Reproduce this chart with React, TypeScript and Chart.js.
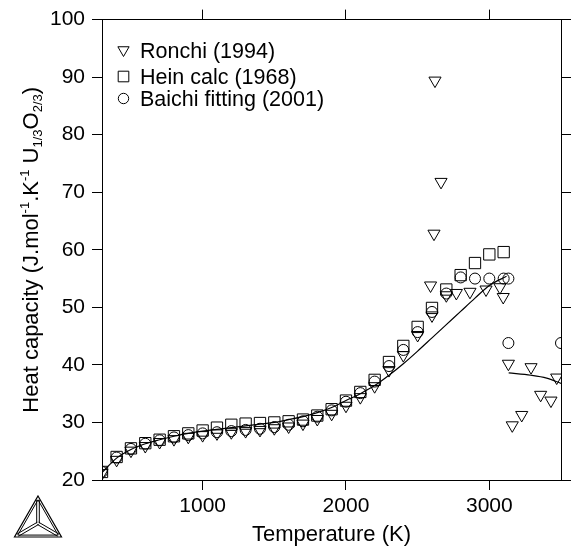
import React, { useEffect, useRef } from 'react';
import { Chart, registerables } from 'chart.js';

Chart.register(...registerables);

const FONT = '"Liberation Sans", Arial, Helvetica, sans-serif';

const X_MIN = 298;
const X_MAX = 3500;
const Y_MIN = 20;
const Y_MAX = 100;
const xTickValues = [1000, 2000, 3000];
const yTickValues = [20, 30, 40, 50, 60, 70, 80, 90, 100];

// Ronchi (1994) - downward triangles
const ronchiT = [298, 400, 500, 600, 700, 800, 900, 1000, 1100, 1200, 1300, 1400, 1500, 1600, 1700, 1800, 1900, 2000, 2100, 2200, 2300, 2400, 2500, 2590, 2600, 2614, 2621, 2663, 2700, 2770, 2865, 2977, 3074, 3097, 3133, 3160, 3226, 3291, 3358, 3430, 3470];
const ronchiCp = [21.2, 23.5, 25.1, 25.9, 26.6, 27.1, 27.5, 27.8, 28.1, 28.3, 28.5, 28.7, 29.0, 29.3, 29.8, 30.6, 31.5, 32.9, 34.4, 36.3, 39.1, 41.7, 45.2, 53.8, 48.6, 62.8, 89.4, 71.8, 52.1, 52.5, 52.7, 53.1, 53.5, 51.8, 40.2, 29.5, 31.3, 39.6, 34.8, 33.8, 37.8];

// Hein calc (1968) - squares
const heinT = [298, 400, 500, 600, 700, 800, 900, 1000, 1100, 1200, 1300, 1400, 1500, 1600, 1700, 1800, 1900, 2000, 2100, 2200, 2300, 2400, 2500, 2600, 2700, 2800, 2900, 3000, 3100];
const heinCp = [21.4, 24.0, 25.5, 26.4, 27.0, 27.6, 28.1, 28.6, 29.1, 29.6, 29.8, 29.9, 30.0, 30.2, 30.5, 31.2, 32.3, 33.8, 35.3, 37.4, 40.5, 43.3, 46.6, 49.9, 53.1, 55.6, 57.7, 59.2, 59.6];

// Baichi fitting (2001) - circles
const baichiT = [298, 400, 500, 600, 700, 800, 900, 1000, 1100, 1200, 1300, 1400, 1500, 1600, 1700, 1800, 1900, 2000, 2100, 2200, 2300, 2400, 2500, 2600, 2700, 2800, 2900, 3000, 3100, 3133, 3133, 3500];
const baichiCp = [21.4, 23.9, 25.4, 26.3, 26.9, 27.4, 27.8, 28.1, 28.3, 28.5, 28.7, 28.9, 29.2, 29.6, 30.2, 31.0, 32.1, 33.6, 35.1, 37.1, 39.8, 42.6, 45.7, 49.2, 52.4, 55.2, 55.0, 55.0, 55.0, 55.0, 43.8, 43.8];

// Calculated curve (solid phase)
const fitSolidT = [298, 400, 500, 600, 700, 800, 900, 1000, 1100, 1200, 1300, 1400, 1500, 1600, 1700, 1800, 1900, 2000, 2100, 2200, 2300, 2400, 2500, 2600, 2700, 2800, 2900, 3000, 3120];
const fitSolidCp = [21.3, 23.8, 25.3, 26.3, 27.0, 27.6, 28.1, 28.5, 28.8, 29.1, 29.4, 29.7, 30.0, 30.5, 31.0, 31.7, 32.6, 33.8, 35.0, 36.4, 38.2, 40.2, 42.4, 44.7, 47.0, 49.3, 51.6, 53.8, 55.4];

// Calculated curve (liquid phase)
const fitLiquidT = [3135, 3290, 3400, 3500];
const fitLiquidCp = [38.6, 38.2, 37.7, 36.8];

const legendLabels = ['Ronchi (1994)', 'Hein calc (1968)', 'Baichi fitting (2001)'];
const legendStyles = ['triangle', 'rect', 'circle'];
const xTitle = 'Temperature (K)';
const yTitleParts: { t: string; k: 'n' | 'sup' | 'sub' }[] = [
  { t: 'Heat capacity (J.mol', k: 'n' },
  { t: '-1', k: 'sup' },
  { t: '.K', k: 'n' },
  { t: '-1', k: 'sup' },
  { t: ' U', k: 'n' },
  { t: '1/3', k: 'sub' },
  { t: 'O', k: 'n' },
  { t: '2/3', k: 'sub' },
  { t: ')', k: 'n' },
];

function pts(xs: number[], ys: number[]) {
  return xs.map((x, i) => ({ x, y: ys[i] }));
}

function drawMarker(ctx: CanvasRenderingContext2D, style: string, x: number, y: number, r: number) {
  ctx.beginPath();
  if (style === 'triangle') {
    const s = Math.sin(Math.PI / 3) * r;
    ctx.moveTo(x - s, y - r * 0.5);
    ctx.lineTo(x + s, y - r * 0.5);
    ctx.lineTo(x, y + r);
    ctx.closePath();
  } else if (style === 'rect') {
    const s = r * Math.SQRT1_2;
    ctx.rect(x - s, y - s, 2 * s, 2 * s);
  } else {
    ctx.arc(x, y, r, 0, Math.PI * 2);
  }
  ctx.stroke();
}

const overlayPlugin = {
  id: 'overlay',
  afterDraw(chart: any) {
    const ctx: CanvasRenderingContext2D = chart.ctx;
    const area = chart.chartArea;
    ctx.save();
    ctx.strokeStyle = '#000';
    ctx.fillStyle = '#000';
    ctx.lineWidth = 1;

    // Legend
    const radii = [6.5, 7.5, 5.2];
    const rowY = [50, 76.5, 98.5];
    ctx.font = `21.5px ${FONT}`;
    ctx.textAlign = 'left';
    ctx.textBaseline = 'alphabetic';
    legendLabels.forEach((lab, i) => {
      drawMarker(ctx, legendStyles[i], area.left + 21.5, rowY[i], radii[i]);
      ctx.fillText(lab, area.left + 38, rowY[i] + 7.5);
    });

    // Y axis title with super/subscripts
    const cy = (area.top + area.bottom) / 2;
    const big = 22;
    const small = 13;
    const widths = yTitleParts.map((p) => {
      ctx.font = `${p.k === 'n' ? big : small}px ${FONT}`;
      return ctx.measureText(p.t).width;
    });
    const total = widths.reduce((a, b) => a + b, 0);
    ctx.translate(30, cy);
    ctx.rotate(-Math.PI / 2);
    let px = -total / 2;
    yTitleParts.forEach((p, i) => {
      ctx.font = `${p.k === 'n' ? big : small}px ${FONT}`;
      const by = p.k === 'n' ? 8 : p.k === 'sup' ? -1 : 12;
      ctx.fillText(p.t, px, by);
      px += widths[i];
    });
    ctx.setTransform(1, 0, 0, 1, 0, 0);

    // Logo (triangle)
    const ax = 38, ay = 496, lx = 14.5, rx = 61.5, by2 = 537;
    ctx.lineWidth = 1.2;
    ctx.beginPath();
    ctx.moveTo(ax, ay); ctx.lineTo(rx, by2); ctx.lineTo(lx, by2); ctx.closePath();
    ctx.stroke();
    const cx = (ax + lx + rx) / 3, ccy = (ay + by2 + by2) / 3;
    const ins = 0.86;
    const iv = [[ax, ay], [rx, by2], [lx, by2]].map(([vx, vy]) => [cx + (vx - cx) * ins, ccy + (vy - ccy) * ins]);
    ctx.lineWidth = 1;
    ctx.beginPath();
    ctx.moveTo(iv[0][0], iv[0][1]); ctx.lineTo(iv[1][0], iv[1][1]); ctx.lineTo(iv[2][0], iv[2][1]); ctx.closePath();
    ctx.stroke();
    iv.forEach(([vx, vy]) => {
      const dx = vx - cx, dy = vy - ccy;
      const len = Math.hypot(dx, dy);
      const nx = -dy / len * 1.3, ny = dx / len * 1.3;
      ctx.beginPath();
      ctx.moveTo(cx + nx, ccy + ny); ctx.lineTo(vx + nx, vy + ny);
      ctx.moveTo(cx - nx, ccy - ny); ctx.lineTo(vx - nx, vy - ny);
      ctx.stroke();
    });
    ctx.restore();
  },
};

const tickFont = { family: FONT, size: 21 };

export default function App() {
  const ref = useRef<HTMLCanvasElement>(null);
  useEffect(() => {
    if (!ref.current) return;
    const markerBase = {
      borderColor: '#000',
      backgroundColor: 'rgba(0,0,0,0)',
      pointBorderColor: '#000',
      pointBackgroundColor: 'rgba(0,0,0,0)',
      pointBorderWidth: 1,
      showLine: false,
      clip: 0,
    };
    const lineBase = {
      borderColor: '#000',
      borderWidth: 1.2,
      pointRadius: 0,
      showLine: true,
      fill: false,
      cubicInterpolationMode: 'monotone',
      clip: 0,
    };
    const chart = new Chart(ref.current, {
      type: 'scatter',
      data: {
        datasets: [
          { ...lineBase, label: 'fit solid', data: pts(fitSolidT, fitSolidCp) },
          { ...lineBase, label: 'fit liquid', data: pts(fitLiquidT, fitLiquidCp) },
          { ...markerBase, label: legendLabels[0], data: pts(ronchiT, ronchiCp), pointStyle: 'triangle', pointRotation: 180, pointRadius: 7 },
          { ...markerBase, label: legendLabels[1], data: pts(heinT, heinCp), pointStyle: 'rect', pointRadius: 8 },
          { ...markerBase, label: legendLabels[2], data: pts(baichiT, baichiCp), pointStyle: 'circle', pointRadius: 5.5 },
        ] as any,
      },
      options: {
        animation: false,
        responsive: false,
        maintainAspectRatio: false,
        events: [],
        layout: { padding: 0 },
        plugins: { legend: { display: false }, tooltip: { enabled: false } },
        scales: {
          x: {
            type: 'linear',
            position: 'bottom',
            min: X_MIN,
            max: X_MAX,
            afterBuildTicks: (s: any) => { s.ticks = xTickValues.map((v) => ({ value: v })); },
            afterFit: (s: any) => { s.height = 68; },
            ticks: { color: '#000', font: tickFont, padding: 4, maxRotation: 0, autoSkip: false, callback: (v: any) => String(v) },
            grid: { drawOnChartArea: false, drawTicks: true, tickLength: 10, color: '#000', lineWidth: 1 },
            border: { display: true, color: '#000', width: 1 },
            title: { display: true, text: xTitle, color: '#000', font: { family: FONT, size: 22 }, padding: { top: 0, bottom: 0 } },
          },
          x2: {
            type: 'linear',
            position: 'top',
            min: X_MIN,
            max: X_MAX,
            afterBuildTicks: (s: any) => { s.ticks = xTickValues.map((v) => ({ value: v })); },
            afterFit: (s: any) => { s.height = 19; },
            ticks: { display: false },
            grid: { drawOnChartArea: false, drawTicks: true, tickLength: 10, color: '#000', lineWidth: 1 },
            border: { display: true, color: '#000', width: 1 },
          },
          y: {
            type: 'linear',
            position: 'left',
            min: Y_MIN,
            max: Y_MAX,
            afterBuildTicks: (s: any) => { s.ticks = yTickValues.map((v) => ({ value: v })); },
            afterFit: (s: any) => { s.width = 102; },
            ticks: { color: '#000', font: tickFont, padding: 7, autoSkip: false, callback: (v: any) => String(v) },
            grid: { drawOnChartArea: false, drawTicks: true, tickLength: 10, color: '#000', lineWidth: 1 },
            border: { display: true, color: '#000', width: 1 },
            title: { display: false },
          },
          y2: {
            type: 'linear',
            position: 'right',
            min: Y_MIN,
            max: Y_MAX,
            afterBuildTicks: (s: any) => { s.ticks = yTickValues.map((v) => ({ value: v })); },
            afterFit: (s: any) => { s.width = 13; },
            ticks: { display: false },
            grid: { drawOnChartArea: false, drawTicks: true, tickLength: 10, color: '#000', lineWidth: 1 },
            border: { display: true, color: '#000', width: 1 },
          },
        },
      } as any,
      plugins: [overlayPlugin],
    });
    return () => chart.destroy();
  }, []);

  return (
    <div style={{ position: 'fixed', left: 0, top: 0, width: 574, height: 548, background: '#fff' }}>
      <canvas ref={ref} width={574} height={548} style={{ display: 'block', width: 574, height: 548 }} />
    </div>
  );
}
